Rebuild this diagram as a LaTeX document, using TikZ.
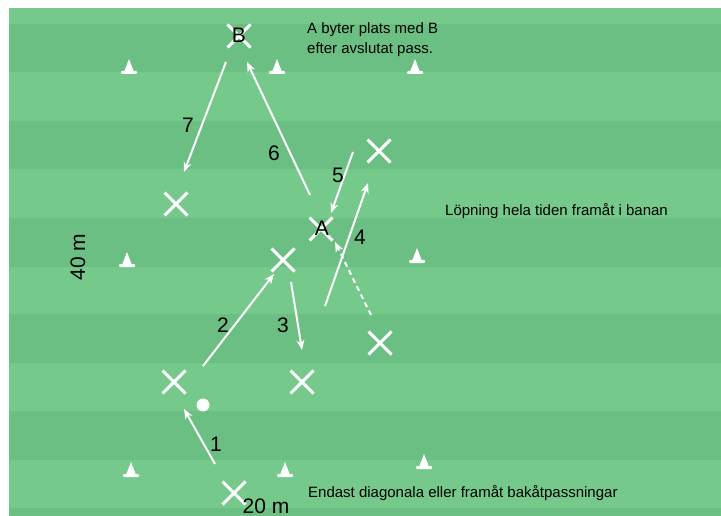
\documentclass[tikz,border=0pt]{standalone}
\usepackage{fontspec}
\setmainfont{Liberation Sans}
\usetikzlibrary{arrows.meta,shapes.misc}

\definecolor{grasslight}{RGB}{116,201,139}
\definecolor{grassdark}{RGB}{108,191,130}

\tikzset{
  player/.style={cross out,draw=white,line width=3pt,minimum size=20pt,inner sep=0pt},
  pass/.style={draw=white,line width=2pt,-{Stealth[length=10pt,width=8pt]}},
  lbl/.style={font=\fontsize{21}{25}\selectfont,inner sep=0pt},
  note/.style={font=\fontsize{15}{20}\selectfont,inner sep=0pt,anchor=base west,align=left},
}

% a white cone: #1 = x, #2 = y of its foot
\newcommand{\kon}[2]{%
  \fill[white] (#1-5,#2-2) -- (#1,#2-15) -- (#1+5,#2-2) -- cycle;
  \fill[white,rounded corners=1pt] (#1-8,#2-3) rectangle (#1+8,#2);}

\begin{document}
\begin{tikzpicture}[x=1pt,y=-1pt]

\useasboundingbox (0,0) rectangle (721,516);

% Draw the pitch with its stripes.
\fill[grasslight] (9,8) rectangle (721,516);
\foreach \y in {24,121,218,314,411,508}
  \fill[grassdark] (9,\y) rectangle (721,\y+48.5);
\clip (9,8) rectangle (721,516);

% Cones.
\foreach \cx/\cy in {129/74,277/74,415/74,127/267,417/263,131/477,285/477,424/469}
  {\kon{\cx}{\cy}}

% Players.
\node[player] (pb) at (239,36) {};
\node[player] (p1) at (176,204) {};
\node[player] (p2) at (379,151) {};
\node[player] (pa) at (321,229) {};
\node[player] (p3) at (283,260) {};
\node[player] (p4) at (380,343) {};
\node[player] (p5) at (174,382) {};
\node[player] (p6) at (302,382) {};
\node[player] (p7) at (234,493) {};
\node[lbl] (nb) at (239,35) {B};
\node[lbl] (na) at (322,228) {A};

% Ball.
\fill[white] (203,405) circle [radius=6.5pt];

% Passes and runs, in order.
\draw[pass] (215,464) -- (184,409);
\draw[pass] (203,366) -- (274,274);
\draw[pass] (291,282) -- (302,350);
\draw[pass] (325,306) -- (368,183);
\draw[pass] (353,152) -- (331,213);
\draw[pass] (310,195) -- (247,62);
\draw[pass] (226,62) -- (184,172);
\draw[pass,dash pattern=on 5pt off 4pt] (371,315) -- (335,242);

\node[lbl] (n1) at (216,444) {1};
\node[lbl] (n2) at (223,325) {2};
\node[lbl] (n3) at (283,325) {3};
\node[lbl] (n4) at (360,237) {4};
\node[lbl] (n5) at (338,175) {5};
\node[lbl] (n6) at (274,153) {6};
\node[lbl] (n7) at (188,125) {7};

% Sizes and notes.
\node[lbl,rotate=90] (len) at (78,257) {40 m};
\node[lbl,anchor=base] (wid) at (266,513) {20 m};
\node[note] (swap) at (307,54) {A byter plats med B\\efter avslutat pass.};
\node[note] (run) at (445,215) {Löpning hela tiden framåt i banan};
\node[note] (only) at (308,497) {Endast diagonala eller framåt bakåtpassningar};

\end{tikzpicture}
\end{document}
